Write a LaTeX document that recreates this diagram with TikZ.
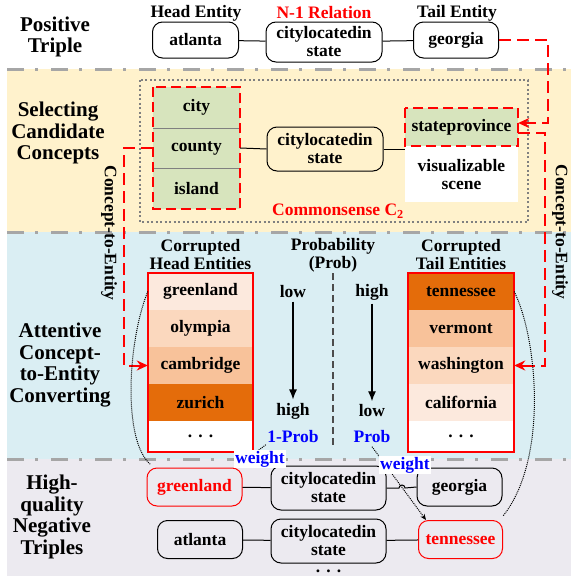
\documentclass[tikz,border=0pt]{standalone}
\usepackage{fontspec}
\setmainfont{Liberation Serif}
\usetikzlibrary{arrows.meta}

\definecolor{bandy}{HTML}{FFF2CC}
\definecolor{bandb}{HTML}{DAEEF3}
\definecolor{bandg}{HTML}{ECEAF0}
\definecolor{cgreen}{HTML}{D7E4BD}
\definecolor{o1}{HTML}{FCE9DD}
\definecolor{o2}{HTML}{FBD8BE}
\definecolor{o3}{HTML}{F8C29A}
\definecolor{o4}{HTML}{E46C0A}

\newcommand{\nodefont}{\fontsize{17.5}{18}\selectfont\bfseries}
\newcommand{\sidefont}{\fontsize{21}{21.5}\selectfont\bfseries}
\newcommand{\moredots}{.\hspace{0.35em}.\hspace{0.35em}.}

\begin{document}
\begin{tikzpicture}[x=1pt,y=-1pt,
   ent/.style={draw,rounded corners=10pt,line width=1pt,align=center,
      font=\nodefont,minimum height=36pt,inner sep=2pt},
   neg/.style={ent,draw=red,text=red},
   cell/.style={minimum height=37pt,font=\nodefont,inner sep=0pt},
   side/.style={align=center,font=\sidefont},
   lbl/.style={align=center,font=\nodefont},
   sep/.style={gray!70,line width=3pt,dash pattern=on 17pt off 11pt on 3pt off 13pt},
   cte/.style={red,line width=2pt,dash pattern=on 12pt off 6pt},
   ctetip/.style={red,line width=2pt,-{Stealth[length=11pt,width=10pt]}},
   rdash/.style={red,line width=2pt,dash pattern=on 10pt off 5pt},
   wgt/.style={densely dotted,line width=1pt,-{Stealth[length=6pt,width=5pt]}}]
   \useasboundingbox (0,0) rectangle (571,576);

   % bands
   \fill[bandy] (7,69) rectangle (571,232);
   \fill[bandb] (7,232) rectangle (571,459);
   \fill[bandg] (7,459) rectangle (571,576);
   \draw[sep] (7,69) -- (571,69);
   \draw[sep] (7,232) -- (571,232);
   \draw[sep] (7,459) -- (571,459);

   \node[side] (s1) at (55,37) {Positive\\Triple};
   \node[side] (s2) at (58,133) {Selecting\\Candidate\\Concepts};
   \node[side] (s3) at (60,365) {Attentive\\Concept-\\to-Entity\\Converting};
   \node[side] (s4) at (52,517) {High-\\quality\\Negative\\Triples};

   % positive triple
   \node[ent,minimum width=86pt] (h) at (195.5,40) {atlanta};
   \node[ent,minimum width=116pt,minimum height=40pt] (r) at (324,42) {citylocatedin\\state};
   \node[ent,minimum width=85pt] (g) at (456,40) {georgia};
   \node[lbl] at (196,13) {Head Entity};
   \node[lbl,text=red] at (324,13) {N-1 Relation};
   \node[lbl] at (457,13) {Tail Entity};
   \draw[line width=1pt] (h) -- (r);
   \draw[line width=1pt] (r) -- (g);

   % candidate concepts
   \draw[gray,line width=1.2pt,dash pattern=on 2pt off 2.5pt] (140,80) rectangle (528,222);
   \foreach \c [count=\i] in {city,county,island}{
   \node[cell,fill=cgreen,minimum width=87pt,minimum height=40.5pt] (c\i) at (196.5,107.5+40.5*\i-40.5) {\c};
   }
   \draw[gray,line width=0.8pt] (c1.south west) -- (c1.south east);
   \draw[gray,line width=0.8pt] (c2.south west) -- (c2.south east);
   \draw[rdash] (c1.north west) rectangle (c3.south east);
   \node[ent,minimum width=116pt,minimum height=44pt] (rc) at (325,149) {citylocatedin\\state};
   \node[cell,fill=cgreen,minimum width=113pt,minimum height=38pt] (sp) at (461.5,127) {stateprovince};
   \node[cell,fill=white,minimum width=113pt,minimum height=56pt,align=center,anchor=north] (vs) at (sp.south) {visualizable\\scene};
   \draw[rdash] (sp.north west) rectangle (sp.south east);
   \draw[line width=1pt] (c2.east) -- (rc.west);
   \draw[line width=1pt] (rc.east) -- (rc.east -| sp.west);
   \node[lbl,text=red] (cs) at (338,211) {Commonsense C\textsubscript{2}};

   % corrupted entities
   \node[lbl] at (200.5,255) {Corrupted\\Head Entities};
   \node[lbl] at (333,255) {Probability\\(Prob)};
   \node[lbl] at (461,255) {Corrupted\\Tail Entities};
   \foreach \e/\col [count=\i] in {greenland/o1,olympia/o2,cambridge/o3,zurich/o4}{
   \node[cell,fill=\col,minimum width=105pt] (h\i) at (200.5,291.5+37*\i-37) {\e};
   \draw[gray!80,line width=1pt,dash pattern=on 5pt off 3pt] (h\i.south west) -- (h\i.south east);
   }
   \foreach \e/\col [count=\i] in {tennessee/o4,vermont/o3,washington/o2,california/o1}{
   \node[cell,fill=\col,minimum width=106pt] (t\i) at (461,291.5+37*\i-37) {\e};
   \draw[gray!80,line width=1pt,dash pattern=on 5pt off 3pt] (t\i.south west) -- (t\i.south east);
   }
   \node[cell,fill=white,minimum width=105pt,minimum height=30pt,anchor=north] (h5) at (h4.south) {\moredots};
   \node[cell,fill=white,minimum width=106pt,minimum height=30pt,anchor=north] (t5) at (t4.south) {\moredots};
   \draw[red,line width=2pt] (h1.north west) rectangle (h5.south east);
   \draw[red,line width=2pt] (t1.north west) rectangle (t5.south east);

   \draw[gray!60!black,line width=1.5pt,dash pattern=on 7pt off 4pt] (333,273) -- (333,447);
   \node[lbl] (lo1) at (293,292) {low};
   \node[lbl] (hi1) at (293,411) {high};
   \node[lbl,text=blue] (p1) at (293,437) {1-Prob};
   \node[lbl] (hi2) at (372,292) {high};
   \node[lbl] (lo2) at (372,411) {low};
   \node[lbl,text=blue] (p2) at (372,437) {Prob};
   \draw[line width=1.2pt,-{Latex[length=10pt,width=8pt]}] (lo1.south) -- (hi1.north);
   \draw[line width=1.2pt,-{Latex[length=10pt,width=8pt]}] (hi2.south) -- (lo2.north);

   % concept-to-entity
   \coordinate (a1) at ([xshift=-14pt]h3.west);
   \coordinate (a2) at ([xshift=14pt,yshift=4pt]sp.east);
   \coordinate (a3) at ([xshift=14pt]t3.east);
   \draw[cte] (c2.west) -- ++(-29,0) |- (a1);
   \draw[ctetip] (a1) -- (h3.west);
   \draw[cte] (g.east) -- ++(49,0) |- (a2);
   \draw[ctetip] (a2) -- ([yshift=4pt]sp.east);
   \draw[cte] ([yshift=-6pt]sp.east) -- ++(27,0) |- (a3);
   \draw[ctetip] (a3) -- (t3.east);
   \node[lbl,rotate=-90] at (109,233) {Concept-to-Entity};
   \node[lbl,rotate=-90] at (560,232) {Concept-to-Entity};

   % negative triples
   \node[neg,minimum width=95pt,minimum height=38pt] (ng) at (194.5,487) {greenland};
   \node[ent,minimum width=115pt,minimum height=44pt] (nr1) at (328.5,488) {citylocatedin\\state};
   \node[ent,minimum width=85pt,minimum height=38pt] (ng2) at (459.5,487) {georgia};
   \node[ent,minimum width=85pt,minimum height=38pt] (na) at (200,539.5) {atlanta};
   \node[ent,minimum width=115pt,minimum height=44pt] (nr2) at (328.5,541) {citylocatedin\\state};
   \node[neg,minimum width=84pt,minimum height=38pt] (nt) at (460.5,539.5) {tennessee};
   \node[font=\nodefont,inner sep=0pt,anchor=base] (nd) at (328.5,572) {\moredots};
   \draw[line width=1pt] (ng) -- (nr1);
   \draw[line width=1pt] (nr1.east) -- (399,488) arc (180:360:3) -- (ng2.west);
   \draw[line width=1pt] (na) -- (nr2);
   \draw[line width=1pt] (nr2) -- (nt);

   % weights
   \draw[densely dotted,line width=1pt] (h1.west) .. controls (128,340) and (122,440) .. ([xshift=4pt,yshift=3pt]ng.north west);
   \draw[densely dotted,line width=1pt] (t1.east) .. controls (538,340) and (548,460) .. ([yshift=4pt]nt.north east);
   \draw[wgt] ([xshift=2pt,yshift=2pt]p1.south west) -- ([xshift=-4pt,yshift=2pt]ng.north east);
   \draw[wgt] (p2.south) -- ([xshift=8pt]nt.north west);
   \node[lbl,text=blue,fill=white,inner sep=1pt] (w1) at (260,459) {weight};
   \node[lbl,text=blue,fill=white,inner sep=1pt] (w2) at (405,465) {weight};
\end{tikzpicture}
\end{document}
